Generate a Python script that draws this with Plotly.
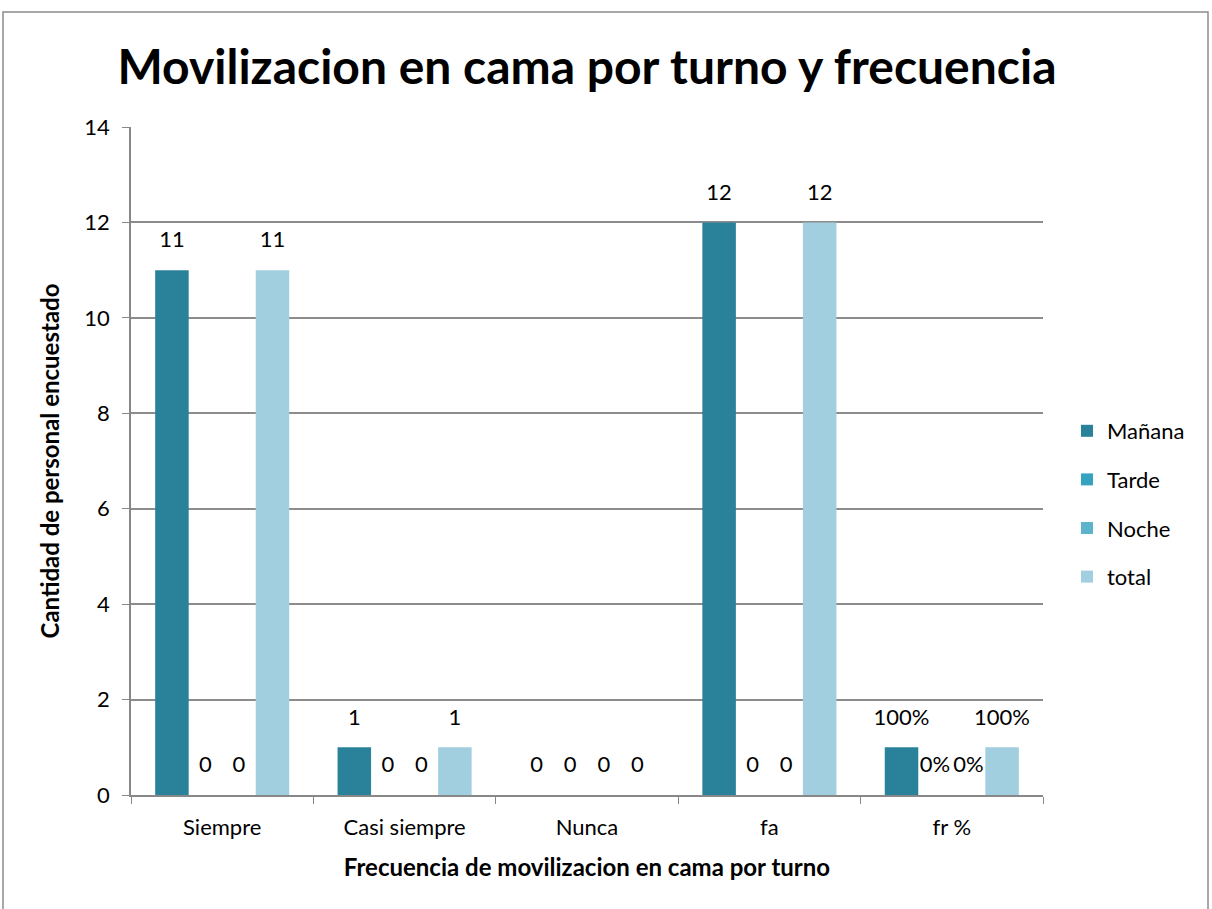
import plotly.graph_objects as go

categories = ["Siempre", "Casi siempre", "Nunca", "fa", "fr %"]
series_names = ["Mañana", "Tarde", "Noche", "total"]
manana = [11, 1, 0, 12, 1]
tarde = [0, 0, 0, 0, 0]
noche = [0, 0, 0, 0, 0]
total = [11, 1, 0, 12, 1]
manana_labels = ["11", "1", "0", "12", "100%"]
tarde_labels = ["0", "0", "0", "0", "0%"]
noche_labels = ["0", "0", "0", "0", "0%"]
total_labels = ["11", "1", "0", "12", "100%"]

colors = ["#2a819a", "#35a3c0", "#5bb4ca", "#a2cfdf"]

W, H = 1212, 909
L, R, T, B = 131, 1212 - 1043, 127, 909 - 795
FONT = "Lato, 'Open Sans', sans-serif"
GAP = 0.265

fig = go.Figure()
all_vals = [manana, tarde, noche, total]
all_labels = [manana_labels, tarde_labels, noche_labels, total_labels]
for i, (name, vals, c) in enumerate(zip(series_names, all_vals, colors)):
    fig.add_trace(go.Bar(
        x=categories, y=vals, name=name,
        offsetgroup=str(i), alignmentgroup="a", legendgroup=str(i),
        marker=dict(color=c, line=dict(width=0)),
    ))
for i, (vals, labels) in enumerate(zip(all_vals, all_labels)):
    fig.add_trace(go.Scatter(
        x=categories, y=vals, text=labels, mode="markers+text",
        textposition="top center", cliponaxis=False, showlegend=False,
        offsetgroup=str(i), alignmentgroup="a", hoverinfo="skip",
        marker=dict(size=26, color="rgba(0,0,0,0)"),
        textfont=dict(size=22, color="#000000", family=FONT),
    ))

pw = W - L - R
ph = H - T - B
fig.add_shape(type="rect", xref="paper", yref="paper",
              x0=(3 - L) / pw, x1=(1208 - L) / pw,
              y0=-(930 - T - ph) / ph, y1=1 + (T - 12) / ph,
              line=dict(color="#8c8c8c", width=1.5), fillcolor="rgba(0,0,0,0)", layer="below")

fig.update_layout(
    width=W, height=H,
    margin=dict(l=L, r=R, t=T, b=B),
    paper_bgcolor="white", plot_bgcolor="white",
    barmode="group", bargap=GAP, bargroupgap=0,
    scattermode="group", scattergap=GAP,
    title=dict(text="<b>Movilizacion en cama por turno y frecuencia</b>",
               x=0.5, xref="paper", xanchor="center", y=1 - 67 / H, yanchor="middle",
               font=dict(size=48, color="#000000", family=FONT)),
    font=dict(family=FONT, size=22, color="#000000"),
    legend=dict(x=(1067 - L) / pw, xanchor="left", y=(795 - 504) / ph, yanchor="middle",
                font=dict(size=22, family=FONT), tracegroupgap=17,
                bgcolor="rgba(0,0,0,0)"),
    xaxis=dict(
        title=dict(text="<b>Frecuencia de movilizacion en cama por turno</b>",
                   font=dict(size=24, family=FONT), standoff=20),
        tickfont=dict(size=22, family=FONT), ticklabelstandoff=12,
        showline=True, linecolor="#888888", linewidth=1.5,
        ticks="outside", tickson="boundaries", ticklen=7, tickcolor="#888888",
        showgrid=False,
    ),
    yaxis=dict(
        title=dict(text="<b>Cantidad de personal encuestado</b>",
                   font=dict(size=24, family=FONT), standoff=18),
        range=[0, 14], dtick=2, tickfont=dict(size=22, family=FONT), ticklabelstandoff=8,
        showline=True, linecolor="#888888", linewidth=1.5,
        ticks="outside", ticklen=7, tickcolor="#888888",
        showgrid=True, gridcolor="#8c8c8c", gridwidth=1.5,
        zeroline=False,
    ),
)

fig.write_html("out.html", config={"displayModeBar": False},
               post_script="document.body.style.margin='0';document.body.style.overflow='hidden';")
